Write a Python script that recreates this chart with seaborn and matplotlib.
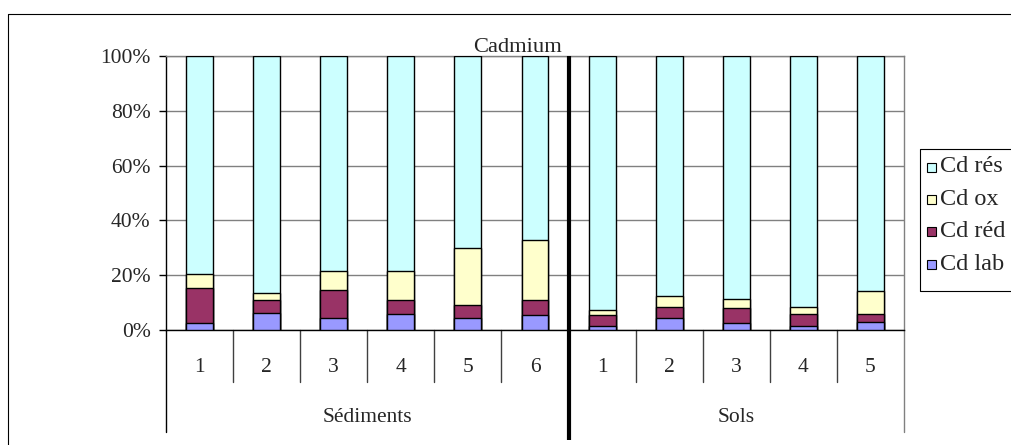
import matplotlib
matplotlib.use('Agg')
import matplotlib.pyplot as plt
import matplotlib.transforms as mtransforms
from matplotlib.patches import Rectangle
from matplotlib.lines import Line2D
from matplotlib.ticker import FuncFormatter
import seaborn as sns
import pandas as pd

# ---------------- data ----------------
sample_labels = ['1', '2', '3', '4', '5', '6', '1', '2', '3', '4', '5']
group_names = ['Sédiments', 'Sols']
group_sizes = [6, 5]
cd_lab = [2.5, 6.3, 4.2, 5.8, 4.2, 5.3, 1.4, 4.2, 2.6, 1.4, 3.1]
cd_red = [12.8, 4.5, 10.3, 5.0, 4.9, 5.5, 3.9, 4.3, 5.4, 4.4, 2.7]
cd_ox = [5.3, 2.7, 7.1, 10.8, 20.7, 22.2, 2.1, 3.9, 3.4, 2.7, 8.3]
cd_res = [79.4, 86.5, 78.4, 78.4, 70.2, 67.0, 92.6, 87.6, 88.6, 91.5, 85.9]
series_names = ['Cd lab', 'Cd réd', 'Cd ox', 'Cd rés']
series_colors = ['#9999FF', '#993366', '#FFFFCC', '#CCFFFF']
y_ticks = [0, 20, 40, 60, 80, 100]
title = 'Cadmium'

# ---------------- style ----------------
sns.set_theme(style='white')
plt.rcParams['font.family'] = ['Liberation Serif', 'DejaVu Serif']
plt.rcParams['font.size'] = 15.5

W, H = 1012, 445
fig = plt.figure(figsize=(W / 100, H / 100), dpi=100)
fig.patch.set_facecolor('white')

def fx(x):
    return x / W

def fy(y):
    return 1 - y / H

ax_left, ax_right, ax_top, ax_bottom = 166, 904, 56, 330
ax_h = ax_bottom - ax_top
ax = fig.add_axes([fx(ax_left), fy(ax_bottom), (ax_right - ax_left) / W, ax_h / H])
ax.set_facecolor('white')

# ---------------- stacked bars ----------------
group_col = []
for g, n in zip(group_names, group_sizes):
    group_col += [g] * n
ids = [f'{g}-{s}' for g, s in zip(group_col, sample_labels)]
df = pd.DataFrame({'id': ids, 'lab': cd_lab, 'red': cd_red, 'ox': cd_ox, 'res': cd_res})
df['t_lab'] = df['lab']
df['t_red'] = df['t_lab'] + df['red']
df['t_ox'] = df['t_red'] + df['ox']
df['t_res'] = df['t_ox'] + df['res']

tops = ['t_lab', 't_red', 't_ox', 't_res']
for col, color in reversed(list(zip(tops, series_colors))):
    sns.barplot(data=df, x='id', y=col, order=ids, color=color, saturation=1,
                width=0.4, edgecolor='black', linewidth=1, errorbar=None,
                ax=ax, zorder=3)

ax.set_xlim(-0.5, len(ids) - 0.5)
ax.set_ylim(0, 100)
ax.set_xlabel('')
ax.set_ylabel('')
ax.set_xticks([])
ax.set_yticks(y_ticks)
ax.yaxis.set_major_formatter(FuncFormatter(lambda v, p: f'{int(v)}%'))
ax.tick_params(axis='y', which='major', left=True, length=5, width=1, color='black',
               direction='out', pad=6, labelsize=15.5)
ax.yaxis.grid(True, color='#808080', linewidth=1)
ax.set_axisbelow(True)
for side in ['left', 'bottom']:
    ax.spines[side].set_color('black')
    ax.spines[side].set_linewidth(1)
for side in ['top', 'right']:
    ax.spines[side].set_color('#808080')
    ax.spines[side].set_linewidth(1)

# ---------------- category axis ----------------
trans = mtransforms.blended_transform_factory(ax.transData, ax.transAxes)
n = len(ids)
for i, lbl in enumerate(sample_labels):
    ax.text(i, -37 / ax_h, lbl, transform=trans, ha='center', va='center', fontsize=15.5)

split = group_sizes[0] - 0.5
for b in [i + 0.5 for i in range(n - 1)]:
    if abs(b - split) < 1e-9:
        continue
    ax.plot([b, b], [0, -52 / ax_h], transform=trans, clip_on=False, color='#404040', lw=1)
ax.plot([-0.5, -0.5], [0, -102 / ax_h], transform=trans, clip_on=False, color='black', lw=1)
ax.plot([n - 0.5, n - 0.5], [0, -102 / ax_h], transform=trans, clip_on=False, color='#808080', lw=1)

start = 0
for g, size in zip(group_names, group_sizes):
    center = start + (size - 1) / 2
    ax.text(center, -87 / ax_h, g, transform=trans, ha='center', va='center', fontsize=15.5)
    start += size

# thick separator
ax.plot([split, split], [1, -110 / ax_h], transform=trans, clip_on=False, color='black',
        lw=3, solid_capstyle='butt', zorder=5)

# ---------------- title ----------------
fig.text(fx(518), fy(52), title, ha='center', va='baseline', fontsize=16.2)

# ---------------- outer border (open on the cut-off sides) ----------------
fig.add_artist(Line2D([fx(1030), fx(8), fx(8)], [fy(14), fy(14), fy(460)],
                      transform=fig.transFigure, color='black', lw=0.8))

# ---------------- legend ----------------
fig.add_artist(Line2D([fx(1030), fx(920), fx(920), fx(1030)], [fy(149), fy(149), fy(291), fy(291)],
                      transform=fig.transFigure, color='black', lw=0.8))
row_y = [167, 199.4, 231.8, 264.2]
for ry, name, color in zip(row_y, list(reversed(series_names)), list(reversed(series_colors))):
    fig.add_artist(Rectangle((fx(927), fy(ry + 4.5)), 9 / W, 9 / H, transform=fig.transFigure,
                             facecolor=color, edgecolor='black', lw=0.8))
    fig.text(fx(940), fy(ry), name, ha='left', va='center', fontsize=17.5)

fig.savefig('out.png', dpi=100)
